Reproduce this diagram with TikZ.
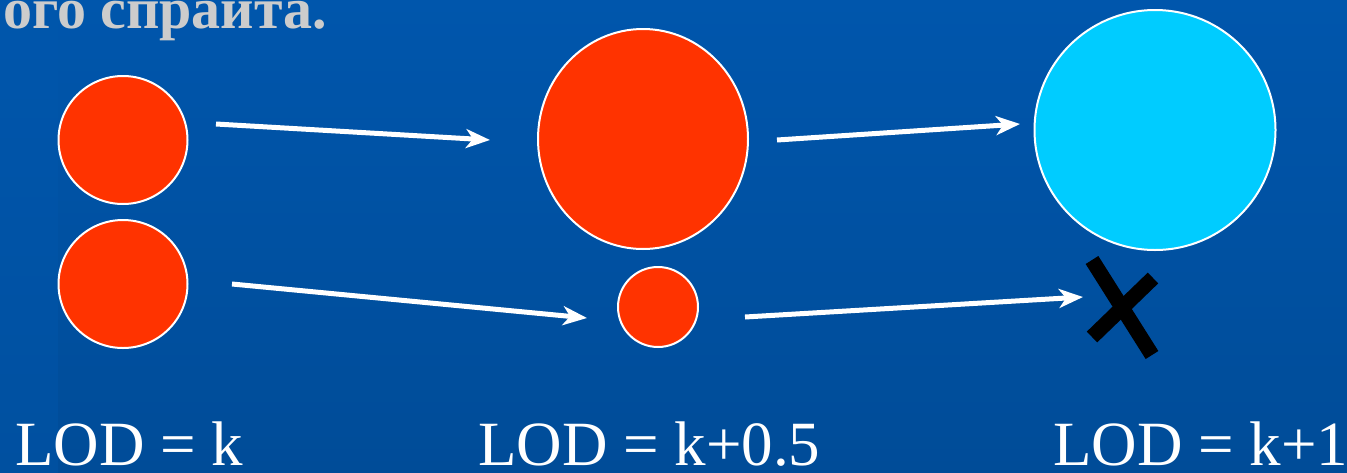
\documentclass[tikz,border=0pt]{standalone}
\usepackage{fontspec}
\setmainfont{Liberation Serif}
\usetikzlibrary{arrows.meta,shapes.geometric}
\definecolor{bgtop}{RGB}{0,86,172}
\definecolor{bgbot}{RGB}{0,76,152}
\definecolor{stripbot}{RGB}{0,80,160}
\definecolor{spritered}{RGB}{255,51,0}
\definecolor{spritecyan}{RGB}{0,204,255}
\definecolor{titlegray}{RGB}{204,204,204}
\tikzset{
  sprite/.style={ellipse,draw=white,line width=2pt,inner sep=0pt},
  lodarrow/.style={white,line width=5pt,-{Stealth[length=24pt,width=19pt,inset=7pt]}},
  lodlabel/.style={white,anchor=base west,inner sep=0pt,font=\fontsize{63}{70}\selectfont},
  cross/.style={black,line width=15pt}
}
\begin{document}
\begin{tikzpicture}[x=1pt,y=-1pt]
  % background
  \useasboundingbox (0,0) rectangle (1347,472);
  \shade[top color=bgtop,bottom color=bgbot] (0,0) rectangle (1347,472);
  \shade[top color=bgtop,bottom color=stripbot] (0,0) rectangle (58,472);
  % title fragment
  \node[titlegray,anchor=base west,inner sep=0pt,font=\bfseries\fontsize{58}{62}\selectfont] (title) at (3,28) {ого спраита.};
  % sprites
  \node[sprite,fill=spritered,minimum width=129pt,minimum height=128pt] (lt) at (123,140) {};
  \node[sprite,fill=spritered,minimum width=129pt,minimum height=128pt] (lb) at (123,284) {};
  \node[sprite,fill=spritered,minimum width=210pt,minimum height=220pt] (mt) at (643,139) {};
  \node[sprite,fill=spritered,minimum width=80pt,minimum height=80pt] (mb) at (658,307) {};
  \node[sprite,fill=spritecyan,minimum width=241pt,minimum height=240pt] (rt) at (1155,130) {};
  % arrow ends
  \coordinate (a1s) at (216,124);
  \coordinate (a1e) at (490,140);
  \coordinate (a2s) at (777,140);
  \coordinate (a2e) at (1020,124);
  \coordinate (a3s) at (232,284);
  \coordinate (a3e) at (587,318);
  \coordinate (a4s) at (745,317);
  \coordinate (a4e) at (1083,297);
  \draw[lodarrow] (a1s) -- (a1e);
  \draw[lodarrow] (a2s) -- (a2e);
  \draw[lodarrow] (a3s) -- (a3e);
  \draw[lodarrow] (a4s) -- (a4e);
  % discarded sprite
  \draw[cross] (1092,260) -- (1152,355);
  \draw[cross] (1153,278) -- (1092,337);
  % levels
  \node[lodlabel] (lod0) at (15,465) {LOD = k};
  \node[lodlabel] (lod1) at (478,465) {LOD = k+0.5};
  \node[lodlabel] (lod2) at (1053,465) {LOD = k+1};
\end{tikzpicture}
\end{document}
